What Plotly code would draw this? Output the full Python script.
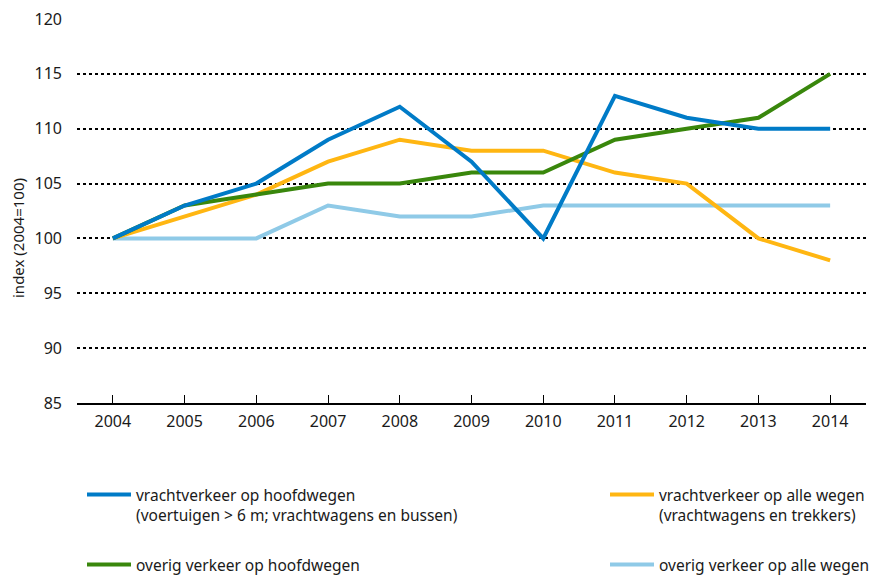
import plotly.graph_objects as go

years = [2004, 2005, 2006, 2007, 2008, 2009, 2010, 2011, 2012, 2013, 2014]

vracht_hoofdwegen = [100, 103, 105, 109, 112, 107, 100, 113, 111, 110, 110]
vracht_alle_wegen = [100, 102, 104, 107, 109, 108, 108, 106, 105, 100, 98]
overig_hoofdwegen = [100, 103, 104, 105, 105, 106, 106, 109, 110, 111, 115]
overig_alle_wegen = [100, 100, 100, 103, 102, 102, 103, 103, 103, 103, 103]

y_ticks = [85, 90, 95, 100, 105, 110, 115, 120]

FONT = "Noto Sans"
TXT = "#1a1a1a"
W, H = 871, 576
ML, MR, MT, MB = 77, 5, 19, 173
PW, PH = W - ML - MR, H - MT - MB

series = [
    ("vrachtverkeer op hoofdwegen<br>(voertuigen > 6 m; vrachtwagens en bussen)",
     vracht_hoofdwegen, "#007BC7", "legend"),
    ("vrachtverkeer op alle wegen<br>(vrachtwagens en trekkers)",
     vracht_alle_wegen, "#FFB612", "legend2"),
    ("overig verkeer op hoofdwegen", overig_hoofdwegen, "#39870C", "legend3"),
    ("overig verkeer op alle wegen", overig_alle_wegen, "#8FCAE7", "legend4"),
]

fig = go.Figure()
# light blue first so the darker lines sit on top
for name, vals, color, leg in [series[3], series[1], series[2], series[0]]:
    fig.add_trace(go.Scatter(
        x=years, y=vals, mode="lines", name=name,
        line=dict(color=color, width=4), legend=leg,
    ))

legend_common = dict(
    xref="container", yref="container", xanchor="left", yanchor="top",
    bgcolor="rgba(0,0,0,0)", font=dict(family=FONT, size=15.5, color=TXT),
    valign="top", itemwidth=44,
)

fig.update_layout(
    width=W, height=H,
    margin=dict(l=ML, r=MR, t=MT, b=MB, autoexpand=False),
    plot_bgcolor="white", paper_bgcolor="white",
    font=dict(family=FONT, size=16, color=TXT),
    showlegend=True,
    legend=dict(x=82 / W, y=1 - 478 / H, **legend_common),
    legend2=dict(x=605 / W, y=1 - 478 / H, **legend_common),
    legend3=dict(x=82 / W, y=1 - 548 / H, **legend_common),
    legend4=dict(x=605 / W, y=1 - 548 / H, **legend_common),
    xaxis=dict(
        tickmode="array", tickvals=years, ticktext=[str(y) for y in years],
        range=[2003.5, 2014.5], showgrid=False, zeroline=False,
        showline=True, linecolor="black", linewidth=1.5,
        ticks="inside", ticklen=8, tickwidth=1.2, tickcolor="black",
        ticklabelstandoff=3, tickangle=0,
        tickfont=dict(family=FONT, size=16, color=TXT),
    ),
    yaxis=dict(
        tickmode="array", tickvals=y_ticks, range=[85, 120],
        showgrid=True, gridcolor="black", gridwidth=1.5, griddash="3px,3px",
        zeroline=False, showline=False, ticks="", ticklabelstandoff=14,
        tickfont=dict(family=FONT, size=16, color=TXT),
    ),
    annotations=[dict(
        text="index (2004=100)", textangle=-90,
        xref="paper", yref="paper",
        x=(18 - ML) / PW, y=(H - MB - 238) / PH,
        xanchor="center", yanchor="middle", showarrow=False,
        font=dict(family=FONT, size=15, color=TXT),
    )],
)

fig.write_html("out.html")
